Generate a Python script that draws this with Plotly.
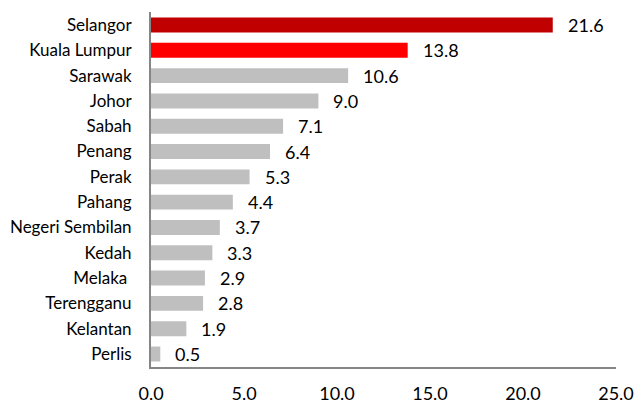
import plotly.graph_objects as go

states = ["Selangor", "Kuala Lumpur", "Sarawak", "Johor", "Sabah", "Penang", "Perak",
          "Pahang", "Negeri Sembilan", "Kedah", "Melaka\u00a0", "Terengganu", "Kelantan", "Perlis"]
values = [21.6, 13.8, 10.6, 9.0, 7.1, 6.4, 5.3, 4.4, 3.7, 3.3, 2.9, 2.8, 1.9, 0.5]
colors = ["#C00000", "#FF0000"] + ["#BFBFBF"] * 12
x_ticks = [0, 5, 10, 15, 20, 25]
x_tick_labels = ["0.0", "5.0", "10.0", "15.0", "20.0", "25.0"]

FONT = "Lato"

fig = go.Figure(go.Bar(
    x=values, y=states, orientation="h",
    marker=dict(color=colors, line=dict(width=0)),
    hoverinfo="skip",
))

for s, v in zip(states, values):
    fig.add_annotation(x=v, y=s, text=f"{v:.1f}", showarrow=False,
                       xanchor="left", yanchor="middle", xshift=13,
                       font=dict(family=FONT, size=18, color="#000000"))

fig.update_layout(
    width=635, height=403,
    margin=dict(l=151, r=19, t=12, b=36, autoexpand=False),
    paper_bgcolor="white", plot_bgcolor="white",
    bargap=0.41, showlegend=False,
    font=dict(family=FONT, color="#000000"),
)
fig.update_xaxes(range=[0, 25], tickvals=x_ticks, ticktext=x_tick_labels,
                 showgrid=False, zeroline=False, showline=True, linecolor="#868686",
                 linewidth=2, ticks="outside", ticklen=9, tickcolor="rgba(0,0,0,0)",
                 automargin=False,
                 tickfont=dict(family=FONT, size=18, color="#000000"))
fig.update_yaxes(autorange="reversed", showgrid=False, zeroline=False, showline=True,
                 linecolor="#868686", linewidth=2, ticks="outside", ticklen=14,
                 tickcolor="rgba(0,0,0,0)", automargin=False,
                 tickfont=dict(family=FONT, size=17, color="#000000"))

fig.write_html("out.html")
